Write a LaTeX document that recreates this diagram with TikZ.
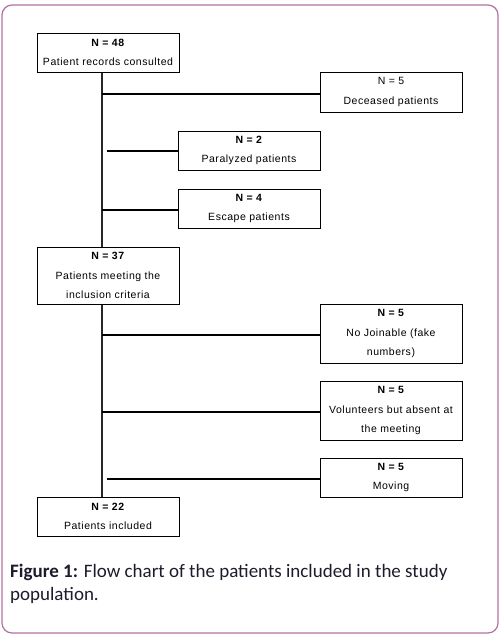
\documentclass[tikz,border=0pt]{standalone}
\usepackage{fontspec}
\setmainfont{Liberation Sans}[LetterSpace=5]
\newfontfamily\capfont{Carlito}
\definecolor{framecol}{RGB}{180,112,160}
\definecolor{captxt}{RGB}{28,28,45}
\begin{document}
\begin{tikzpicture}[x=1pt,y=-1pt,
  box/.style={draw=black,line width=1pt,rectangle,minimum width=142pt,inner sep=0pt,
    align=center,font=\fontsize{10.5}{19.5}\selectfont},
  trunk/.style={draw=black!85,line width=1.6pt},
  branch/.style={draw=black,line width=2.4pt}]
\useasboundingbox (0,0) rectangle (501,637);
\draw[framecol,line width=1.2pt,rounded corners=10pt] (2,5) rectangle (498,633);
\coordinate (tx) at (102,0);
\node[box,minimum height=39pt] (b48) at (108,52.5) {\textbf{N = 48}\\Patient records consulted};
\node[box,minimum height=40pt] (dec) at (391,92) {N = 5\\Deceased patients};
\node[box,minimum height=39pt] (par) at (249,150.5) {\textbf{N = 2}\\Paralyzed patients};
\node[box,minimum height=39pt] (esc) at (249,208.5) {\textbf{N = 4}\\Escape patients};
\node[box,minimum height=57pt] (b37) at (108,275.5) {\textbf{N = 37}\\Patients meeting the\\inclusion criteria};
\node[box,minimum height=59pt] (nj) at (391,333.5) {\textbf{N = 5}\\No Joinable (fake\\numbers)};
\node[box,minimum height=59pt] (vol) at (391,410.5) {\textbf{N = 5}\\Volunteers but absent at\\the meeting};
\node[box,minimum height=39pt] (mov) at (391,477.5) {\textbf{N = 5}\\Moving};
\node[box,minimum height=39pt] (b22) at (108,516.5) {\textbf{N = 22}\\Patients included};
\draw[trunk] (b48.south -| tx) -- (b37.north -| tx);
\draw[trunk] (b37.south -| tx) -- (b22.north -| tx);
\draw[branch] ([yshift=-2pt]dec.west -| tx) -- ([yshift=-2pt]dec.west);
\draw[branch] ([yshift=-0.5pt,xshift=5pt]par.west -| tx) -- ([yshift=-0.5pt]par.west);
\draw[branch] ([yshift=-1.5pt]esc.west -| tx) -- ([yshift=-1.5pt]esc.west);
\draw[branch] ([yshift=-1.5pt]nj.west -| tx) -- ([yshift=-1.5pt]nj.west);
\draw[branch] ([yshift=-1.2pt]vol.west -| tx) -- ([yshift=-1.2pt]vol.west);
\draw[branch] ([yshift=-1.5pt,xshift=5pt]mov.west -| tx) -- ([yshift=-1.5pt]mov.west);
\node[anchor=base west,inner sep=0pt,align=left,text=captxt,
  font=\capfont\fontsize{19}{23}\selectfont] (cap) at (10,600)
  {\textbf{Figure 1:} Flow chart of the patients included in the study\\population.};
\end{tikzpicture}
\end{document}
